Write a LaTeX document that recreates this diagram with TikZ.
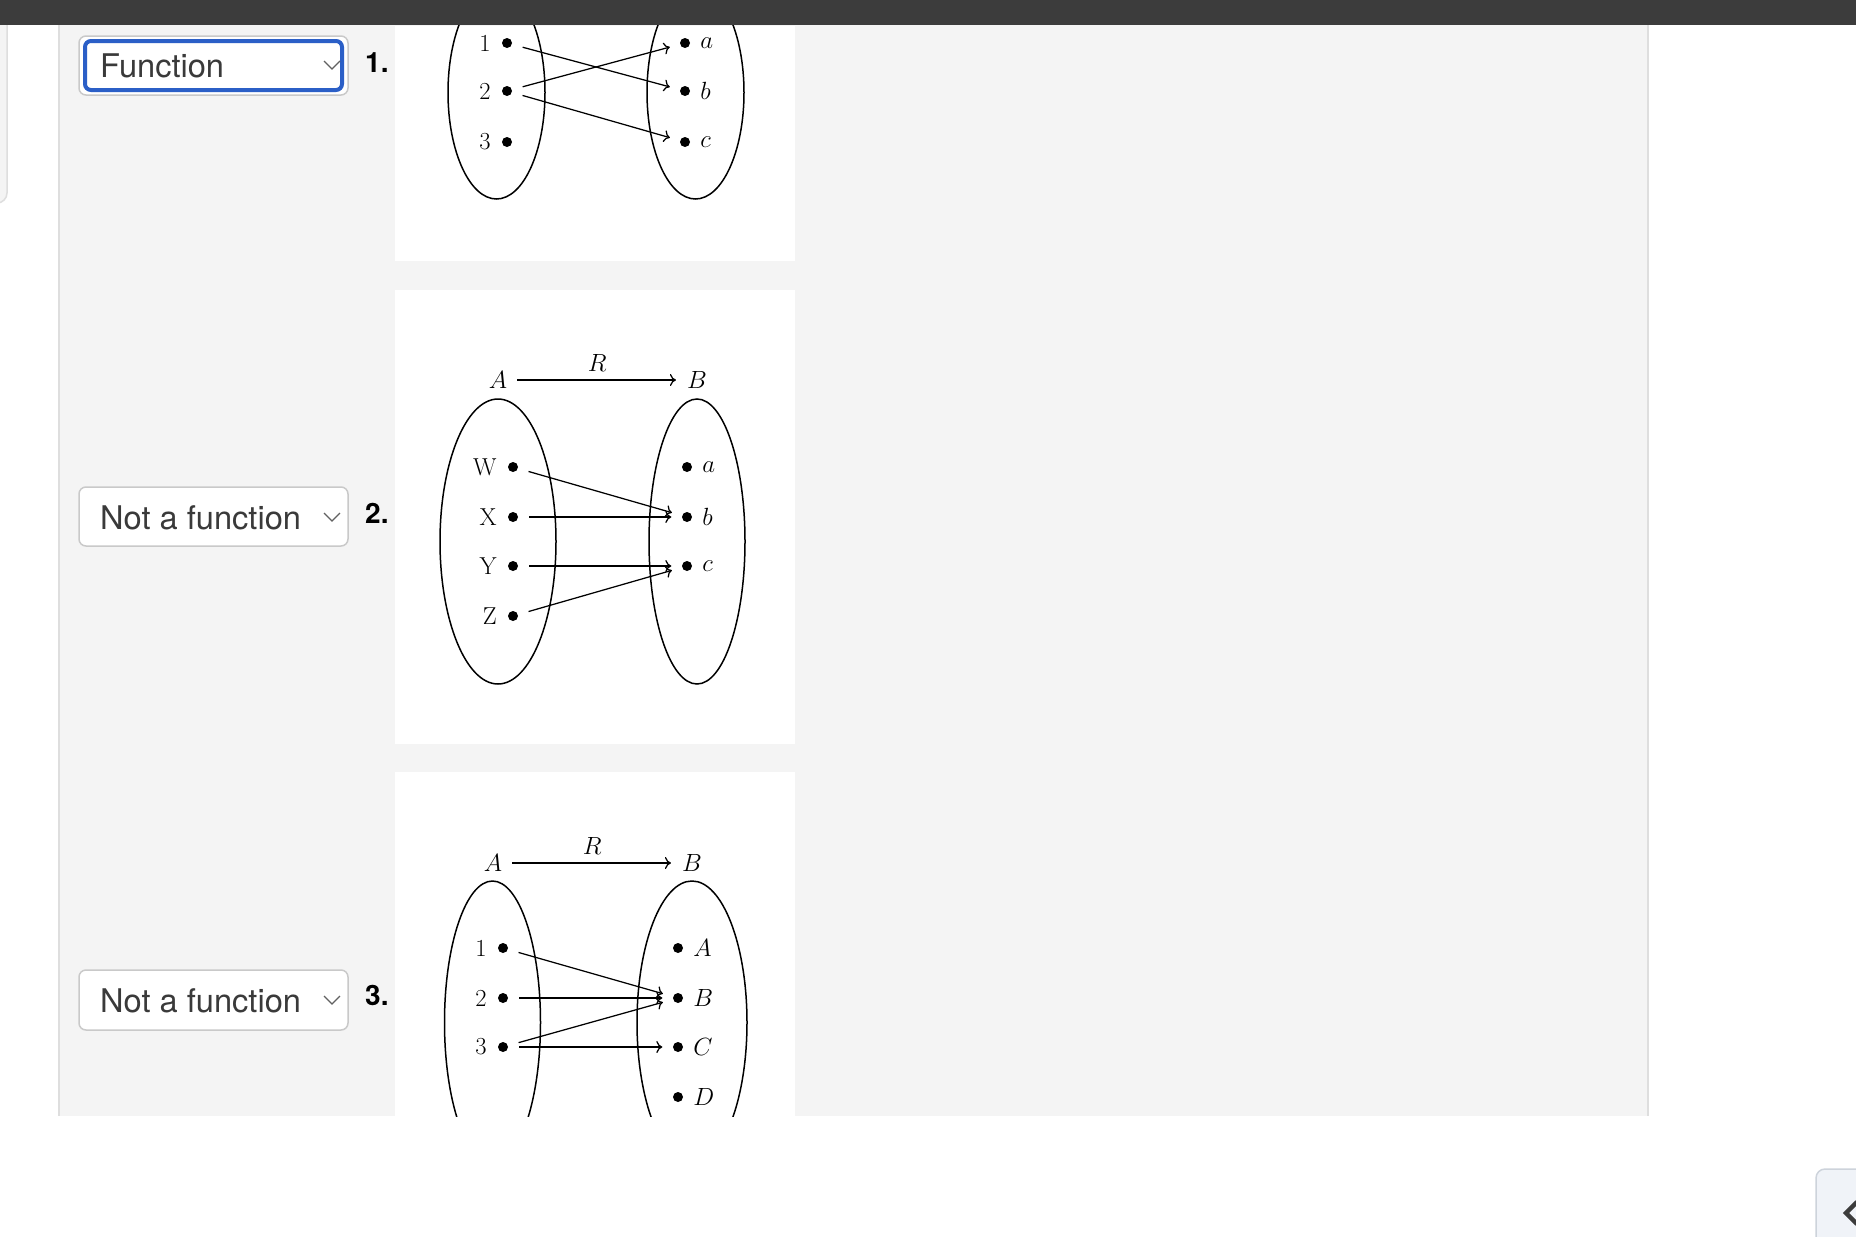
\documentclass[tikz,border=0pt]{standalone}
\usepackage{fontspec}
\newfontfamily\uifont{TeX Gyre Heros}
\usetikzlibrary{arrows.meta,positioning}
\definecolor{barcol}{HTML}{3C3C3C}
\definecolor{pagegray}{HTML}{F4F4F4}
\definecolor{rulegray}{HTML}{DEDEDE}
\definecolor{boxgray}{HTML}{C9C9C9}
\definecolor{focusblue}{HTML}{2B5FC7}
\definecolor{uitext}{HTML}{3A3A3A}
\definecolor{tabfill}{HTML}{F0F3F8}
\definecolor{tabedge}{HTML}{CDD3DB}
\tikzset{
  elt/.style={circle,fill=black,inner sep=0pt,minimum size=10pt},
  lbl/.style={inner sep=0pt,font=\fontsize{24.5}{29}\selectfont},
  map/.style={->,line width=1.25pt,shorten <=11pt,shorten >=10.5pt},
  rel/.style={->,line width=1.25pt,shorten <=10pt,shorten >=11pt},
  setline/.style={line width=1.5pt},
  selbox/.style={draw=boxgray,fill=white,line width=1.5pt,rounded corners=7pt},
  seltext/.style={anchor=base west,inner sep=0pt,text=uitext,font=\uifont\fontsize{32.6}{38}\selectfont},
  qnum/.style={anchor=base west,inner sep=0pt,font=\uifont\bfseries\fontsize{28}{34}\selectfont},
  chev/.style={draw=uitext!80,line width=1.3pt},
}
\begin{document}
\begin{tikzpicture}[x=1pt,y=-1pt,>={Computer Modern Rightarrow[length=6pt,width=12pt]}]
  \useasboundingbox[fill=white] (0,0) rectangle (1856,1237);
  % page frame
  \draw[rulegray,fill=pagegray,line width=1.5pt,rounded corners=10pt] (-5,15) -- (7,15) -- (7,203) -- (-5,203);
  \fill[pagegray] (59,25) rectangle (1648,1116);
  \draw[rulegray,line width=2pt] (59,25) -- (59,1116);
  \draw[rulegray,line width=2pt] (1648,25) -- (1648,1116);
  \fill[white] (395,26) rectangle (795,261);
  \fill[white] (395,290) rectangle (795,744);
  \fill[white] (395,772) rectangle (795,1116);

  % answer boxes
  \draw[selbox] (79,36) rectangle (348,95);
  \draw[focusblue,line width=4pt,rounded corners=6pt] (85,41) rectangle (342,90);
  \node[seltext] (sel1) at (100,77) {Function};
  \draw[chev] (324,61) -- (332,69) -- (340,61);
  \node[qnum] (num1) at (365,72) {1.};

  \draw[selbox] (79,487) rectangle (348,546);
  \node[seltext] (sel2) at (100,529) {Not a function};
  \draw[chev] (324,513) -- (332,521) -- (340,513);
  \node[qnum] (num2) at (365,523) {2.};

  \draw[selbox] (79,970) rectangle (348,1030);
  \node[seltext] (sel3) at (100,1012) {Not a function};
  \draw[chev] (324,996) -- (332,1004) -- (340,996);
  \node[qnum] (num3) at (365,1005) {3.};

  % diagram 1
  \draw[setline] (496.5,92.5) ellipse [x radius=48.5,y radius=106.5];
  \draw[setline] (695.5,92.5) ellipse [x radius=48.5,y radius=106.5];
  \foreach \n/\y in {1/43,2/91,3/142} {
    \node[elt] (p\n) at (507,\y) {};
    \node[lbl,left=11pt of p\n] {\n};
  }
  \foreach \n/\y in {a/43,b/91,c/142} {
    \node[elt] (q\n) at (685,\y) {};
    \node[lbl,right=10pt of q\n] {$\n$};
  }
  \draw[map] (p1) -- (qb);
  \draw[map] (p2) -- (qa);
  \draw[map] (p2) -- (qc);

  % diagram 2
  \node[lbl] (hA2) at (498,380) {$A$};
  \node[lbl] (hB2) at (697,380) {$B$};
  \draw[rel] (hA2.east) -- node[lbl,above=8pt] (hR2) {$R$} (hB2.west);
  \draw[setline] (498,541.5) ellipse [x radius=58,y radius=142.5];
  \draw[setline] (697,541.5) ellipse [x radius=48,y radius=142.5];
  \foreach \n/\y in {W/467,X/517,Y/566,Z/616} {
    \node[elt] (u\n) at (513,\y) {};
    \node[lbl,left=11pt of u\n] {\n};
  }
  \foreach \n/\y in {a/467,b/517,c/566} {
    \node[elt] (v\n) at (687,\y) {};
    \node[lbl,right=10pt of v\n] {$\n$};
  }
  \draw[map] (uW) -- (vb);
  \draw[map] (uX) -- (vb);
  \draw[map] (uY) -- (vc);
  \draw[map] (uZ) -- (vc);

  % diagram 3
  \node[lbl] (hA3) at (493,863) {$A$};
  \node[lbl] (hB3) at (692,863) {$B$};
  \draw[rel] (hA3.east) -- node[lbl,above=8pt] (hR3) {$R$} (hB3.west);
  \begin{scope}
    \clip (395,772) rectangle (795,1116);
    \draw[setline] (492.5,1022.5) ellipse [x radius=48,y radius=141.5];
    \draw[setline] (692,1022.5) ellipse [x radius=55,y radius=141.5];
  \end{scope}
  \foreach \n/\y in {1/948,2/998,3/1047} {
    \node[elt] (s\n) at (503,\y) {};
    \node[lbl,left=11pt of s\n] {\n};
  }
  \foreach \n/\y in {A/948,B/998,C/1047,D/1097} {
    \node[elt] (t\n) at (678,\y) {};
    \node[lbl,right=10pt of t\n] {$\n$};
  }
  \draw[map] (s1) -- (tB);
  \draw[map] (s2) -- (tB);
  \draw[map] (s3) -- (tB);
  \draw[map] (s3) -- (tC);

  % top bar and corner tab
  \fill[barcol] (0,0) rectangle (1856,25);
  \draw[tabedge,fill=tabfill,line width=1.5pt,rounded corners=9pt] (1816,1169) rectangle (1880,1260);
  \draw[barcol,line width=4.5pt] (1857,1202) -- (1846,1213) -- (1857,1224);
\end{tikzpicture}
\end{document}
